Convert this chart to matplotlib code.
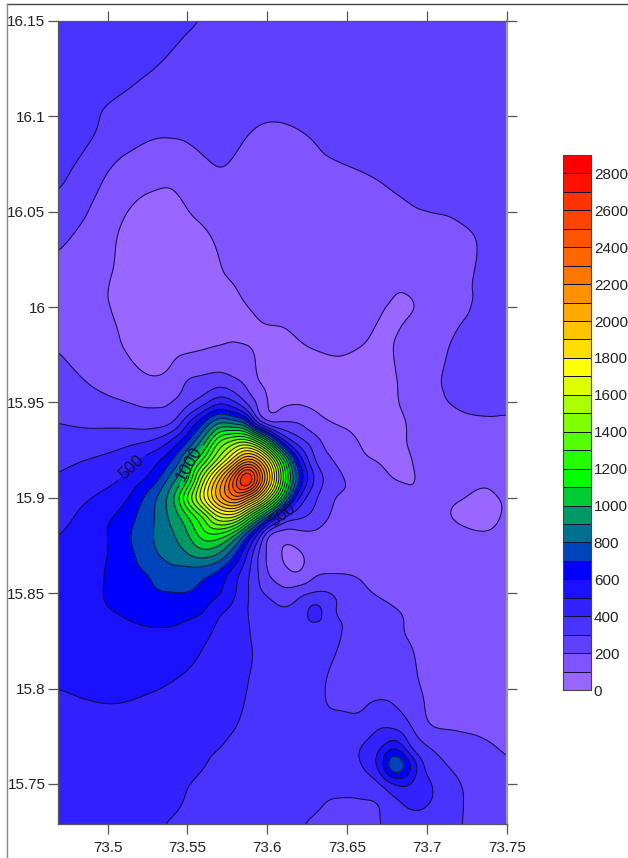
import numpy as np
import matplotlib
matplotlib.use('Agg')
import matplotlib.pyplot as plt
import matplotlib.tri as tri
from matplotlib.lines import Line2D

plt.rcParams['font.family'] = ['Liberation Sans', 'DejaVu Sans']

lon = [73.469, 73.49, 73.51, 73.53, 73.54, 73.55, 73.56, 73.57, 73.58, 73.5875, 73.594, 73.60,
       73.61, 73.62, 73.63, 73.64, 73.66, 73.67, 73.68, 73.69, 73.70, 73.72, 73.74, 73.75]
lat = [16.15, 16.11, 16.09, 16.07, 16.04, 16.01, 16.00, 15.99, 15.98, 15.96, 15.95, 15.94, 15.93, 15.92, 15.91, 15.90,
       15.89, 15.88, 15.87, 15.86, 15.85, 15.84, 15.83, 15.82, 15.80, 15.78, 15.77, 15.76, 15.75, 15.74, 15.729]

# values, one row per latitude
values = [
    [370, 355, 340, 325, 315, 306, 298, 290, 285, 282, 280, 275, 275, 275, 275, 275, 270, 270, 270, 270, 270, 270, 270, 270],
    [345, 318, 296, 275, 268, 262, 260, 258, 256, 245, 235, 230, 230, 235, 245, 255, 265, 268, 270, 270, 270, 270, 270, 270],
    [340, 305, 245, 207, 206, 212, 222, 226, 215, 200, 190, 185, 187, 195, 205, 218, 232, 238, 245, 250, 255, 262, 268, 270],
    [325, 242, 158, 121, 118, 147, 178, 195, 185, 175, 170, 170, 177, 180, 185, 190, 199, 205, 213, 222, 232, 250, 265, 270],
    [232, 170, 90, 75, 72, 80, 95, 115, 130, 137, 145, 150, 155, 160, 165, 167, 170, 172, 175, 178, 182, 193, 212, 225],
    [165, 125, 80, 65, 62, 68, 80, 92, 99, 110, 122, 130, 140, 148, 153, 156, 155, 140, 105, 110, 135, 185, 222, 240],
    [175, 135, 78, 62, 60, 65, 75, 85, 93, 99, 108, 115, 125, 135, 143, 148, 140, 108, 88, 92, 125, 180, 235, 250],
    [185, 150, 88, 66, 65, 72, 82, 92, 96, 90, 96, 99, 100, 112, 125, 132, 118, 94, 92, 118, 150, 200, 245, 260],
    [195, 165, 97, 70, 70, 78, 88, 98, 103, 100, 92, 85, 90, 96, 107, 118, 100, 88, 102, 135, 165, 215, 260, 270],
    [240, 195, 150, 114, 135, 215, 241, 273, 229, 180, 100, 85, 70, 60, 55, 55, 55, 55, 95, 130, 165, 245, 270, 280],
    [271, 234, 205, 185, 200, 270, 355, 480, 400, 270, 195, 95, 85, 92, 85, 70, 55, 50, 93, 125, 165, 215, 235, 225],
    [297, 280, 268, 250, 275, 470, 680, 880, 820, 720, 310, 190, 200, 190, 127, 97, 75, 60, 70, 115, 135, 180, 190, 190],
    [335, 338, 365, 413, 510, 680, 930, 1300, 1430, 1450, 1280, 1000, 500, 330, 235, 155, 92, 70, 80, 110, 130, 175, 180, 185],
    [375, 405, 450, 570, 685, 930, 1210, 1540, 1880, 2135, 2030, 1775, 1130, 560, 290, 205, 108, 95, 80, 99, 118, 170, 180, 185],
    [410, 452, 510, 660, 850, 1060, 1560, 2000, 2460, 2800, 2420, 2030, 1310, 700, 385, 250, 153, 124, 97, 96, 112, 125, 115, 140],
    [440, 500, 575, 790, 960, 1330, 1700, 2080, 2300, 2100, 1900, 1580, 1020, 480, 315, 210, 170, 150, 125, 105, 108, 102, 92, 110],
    [465, 540, 640, 805, 930, 1080, 1300, 1600, 1600, 1320, 1030, 800, 410, 320, 270, 190, 150, 140, 125, 118, 112, 96, 88, 110],
    [499, 545, 670, 810, 880, 980, 1150, 1150, 960, 700, 460, 190, 136, 160, 175, 165, 150, 140, 130, 125, 120, 108, 105, 115],
    [525, 565, 650, 790, 840, 890, 940, 880, 690, 490, 300, 185, 92, 88, 135, 155, 140, 132, 125, 118, 112, 112, 112, 118],
    [545, 580, 640, 720, 765, 745, 720, 665, 530, 420, 310, 205, 125, 100, 190, 200, 185, 165, 148, 130, 115, 115, 115, 120],
    [555, 590, 625, 690, 695, 700, 670, 610, 505, 415, 320, 295, 235, 275, 310, 300, 215, 190, 165, 140, 120, 118, 118, 122],
    [555, 590, 605, 625, 640, 625, 603, 510, 460, 405, 345, 330, 315, 335, 450, 315, 255, 235, 210, 185, 150, 125, 120, 125],
    [545, 580, 585, 595, 590, 570, 540, 470, 430, 410, 375, 360, 350, 345, 345, 330, 245, 225, 210, 190, 160, 130, 125, 128],
    [535, 565, 560, 565, 560, 540, 495, 440, 415, 410, 390, 370, 350, 340, 335, 310, 250, 235, 222, 205, 170, 135, 125, 125],
    [500, 515, 515, 503, 490, 470, 450, 432, 415, 400, 385, 370, 355, 345, 325, 285, 265, 270, 260, 225, 185, 150, 135, 130],
    [465, 470, 475, 465, 455, 440, 425, 410, 402, 385, 372, 360, 345, 335, 325, 320, 335, 395, 385, 300, 210, 185, 170, 160],
    [450, 450, 455, 445, 430, 420, 412, 403, 385, 370, 357, 345, 335, 325, 320, 330, 405, 465, 570, 375, 300, 250, 205, 190],
    [435, 440, 440, 430, 420, 410, 403, 385, 365, 350, 342, 335, 325, 315, 315, 340, 405, 530, 810, 605, 365, 275, 220, 205],
    [425, 425, 425, 415, 410, 402, 390, 365, 350, 340, 332, 325, 315, 310, 305, 325, 355, 385, 505, 495, 420, 305, 240, 215],
    [420, 425, 420, 415, 410, 395, 375, 355, 340, 330, 324, 318, 310, 310, 310, 293, 290, 300, 375, 420, 410, 310, 240, 215],
    [405, 410, 410, 405, 395, 380, 360, 345, 335, 325, 320, 315, 308, 303, 290, 270, 262, 295, 340, 365, 345, 305, 250, 225],
]

levels = list(range(0, 3000, 100))
label_levels = [500, 1000]
band_colors = ['#9966ff', '#8055ff', '#6040ff', '#4833ff', '#3322ff', '#1a11ff', '#0000ff', '#0044bb',
               '#00708f', '#009966', '#00cc33', '#00ff00', '#22ff00', '#55ff00', '#80ff00', '#aaff00',
               '#ddff00', '#ffff00', '#ffdd00', '#ffc400', '#ffaa00', '#ff9000', '#ff7700', '#ff6600',
               '#ff5500', '#ff4400', '#ff3300', '#ff1100', '#ff0000']

xticks = [73.5, 73.55, 73.6, 73.65, 73.7, 73.75]
xticklabels = ['73.5', '73.55', '73.6', '73.65', '73.7', '73.75']
yticks = [15.75, 15.8, 15.85, 15.9, 15.95, 16, 16.05, 16.1, 16.15]
yticklabels = ['15.75', '15.8', '15.85', '15.9', '15.95', '16', '16.05', '16.1', '16.15']
bar_ticks = list(range(0, 3000, 200))

W, H = 628, 858
fig = plt.figure(figsize=(W / 100, H / 100), dpi=100)
ax = fig.add_axes([58 / W, 1 - 824 / H, 449 / W, 803 / H])
ax.set_xlim(73.469, 73.75)
ax.set_ylim(15.729, 16.15)

# surface through the read values, on a pixel sized mesh
X, Y = np.meshgrid(lon, lat)
triang = tri.Triangulation(X.ravel(), Y.ravel())
surface = tri.CubicTriInterpolator(triang, np.array(values, dtype=float).ravel(), kind='geom')
xi = np.linspace(lon[0], lon[-1], 450)
yi = np.linspace(lat[-1], lat[0], 804)
XI, YI = np.meshgrid(xi, yi)
zi = np.ma.filled(surface(XI, YI), 0.0)

# soften the mesh a little so the lines run as smooth as a gridded map
sigma = 4.5
n = 14
kernel = np.exp(-0.5 * (np.arange(-n, n + 1) / sigma) ** 2)
kernel /= kernel.sum()
zi = np.pad(zi, n, mode='edge')
zi = np.apply_along_axis(lambda v: np.convolve(v, kernel, mode='same'), 0, zi)
zi = np.apply_along_axis(lambda v: np.convolve(v, kernel, mode='same'), 1, zi)
zi = zi[n:-n, n:-n]

ax.contourf(xi, yi, zi, levels=levels, colors=band_colors, extend='neither')
plain_levels = [l for l in levels if l not in label_levels]
ax.contour(xi, yi, zi, levels=plain_levels, colors='#14103c', linewidths=0.75)
cs = ax.contour(xi, yi, zi, levels=label_levels, colors='#14103c', linewidths=0.75)
ax.clabel(cs, fmt='%d', fontsize=12, colors='#14103c', inline=True,
          manual=[(73.514, 15.917), (73.608, 15.893), (73.5475, 15.919)])

ax.set_xlim(73.469, 73.75)
ax.set_ylim(15.729, 16.15)
ax.set_xticks(xticks, xticklabels)
ax.set_yticks(yticks, yticklabels)
ax.tick_params(axis='both', length=7, width=0.9, color='#555555', labelsize=11,
               labelcolor='#222222', top=True, right=True)
ax.tick_params(axis='x', pad=5)
ax.tick_params(axis='y', pad=2)
for s in ax.spines.values():
    s.set_color('#555566')
    s.set_linewidth(0.9)
ax.spines['right'].set_color('#999999')
ax.spines['right'].set_linewidth(1.6)

cax = fig.add_axes([563 / W, 1 - 690 / H, 28 / W, 535 / H])
cax.pcolormesh([0, 1], levels, np.arange(29).reshape(-1, 1),
               cmap=matplotlib.colors.ListedColormap(band_colors),
               edgecolors='#14103c', linewidth=0.7)
cax.set_xticks([])
cax.yaxis.tick_right()
cax.set_yticks(bar_ticks, [str(t) for t in bar_ticks])
cax.tick_params(axis='y', length=0, labelsize=11, labelcolor='#222222', pad=2)
for s in cax.spines.values():
    s.set_color('#444444')
    s.set_linewidth(0.8)

# thin outer frame of the original screenshot
fig.add_artist(Line2D([7 / W, 1], [1 - 4 / H, 1 - 4 / H], color='#444444', lw=1))
fig.add_artist(Line2D([7 / W, 7 / W], [0, 1 - 4 / H], color='#888888', lw=1))

fig.savefig('out.png', dpi=100)
